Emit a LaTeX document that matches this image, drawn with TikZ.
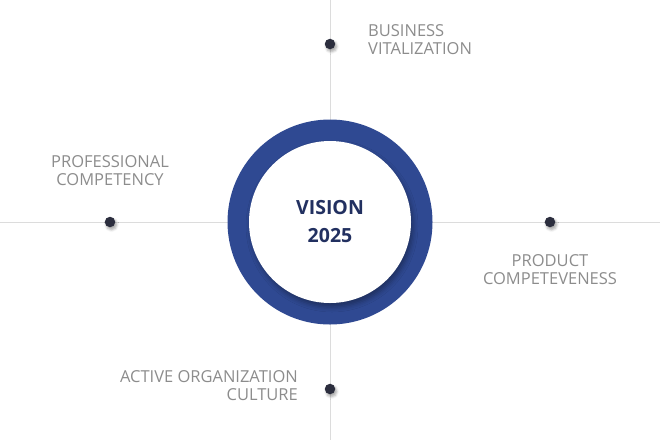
\documentclass[tikz,border=0pt]{standalone}
\usepackage{fontspec}
\setmainfont{Open Sans}
\usepackage{xcolor}
\definecolor{ringblue}{RGB}{47,73,146}
\definecolor{navy}{RGB}{34,48,96}
\definecolor{dotgray}{RGB}{44,46,62}
\definecolor{labelgray}{RGB}{140,140,140}
\definecolor{axisgray}{RGB}{220,220,220}
\usetikzlibrary{positioning, shadows.blur}

\begin{document}
\begin{tikzpicture}[
  x=1pt, y=1pt,
  ring/.style={circle, fill=ringblue, minimum size=205pt, inner sep=0pt},
  core/.style={circle, fill=white, minimum size=162pt, inner sep=0pt,
               font=\fontsize{19.5}{28}\selectfont\bfseries, text=navy, align=center,
               blur shadow={shadow xshift=2pt, shadow yshift=-4pt,
                            shadow blur radius=5pt, shadow opacity=35}},
  dot/.style={circle, fill=dotgray, minimum size=10.5pt, inner sep=0pt,
              blur shadow={shadow xshift=1.5pt, shadow yshift=-2.5pt,
                           shadow blur radius=2.5pt, shadow opacity=35}},
  lbl/.style={font=\fontsize{16.5}{18}\selectfont, text=labelgray, inner sep=0pt},
  axis/.style={axisgray, line width=0.8pt},
]
\useasboundingbox (0,0) rectangle (660,-440);

% Axes
\coordinate (n) at (330,0);
\coordinate (s) at (330,-440);
\coordinate (w) at (0,-222);
\coordinate (e) at (660,-222);
\draw[axis] (n) -- (s);
\draw[axis] (w) -- (e);

% Centre
\node[ring] (ring) at (330,-222) {};
\node[core] (vision) at (ring.center) {VISION\\2025};

% Dots
\node[dot] (dtop) at (330,-44) {};
\node[dot] (dleft) at (110,-222) {};
\node[dot] (dright) at (550,-222) {};
\node[dot] (dbottom) at (330,-389) {};

% Labels
\node[lbl, align=left, anchor=west] (business) at (368,-40) {BUSINESS\\VITALIZATION};
\node[lbl, align=center] (professional) at (110,-171) {PROFESSIONAL\\COMPETENCY};
\node[lbl, align=center] (product) at (550,-270) {PRODUCT\\COMPETEVENESS};
\node[lbl, align=right, anchor=east] (active) at (298,-386) {ACTIVE ORGANIZATION\\CULTURE};

\end{tikzpicture}
\end{document}
